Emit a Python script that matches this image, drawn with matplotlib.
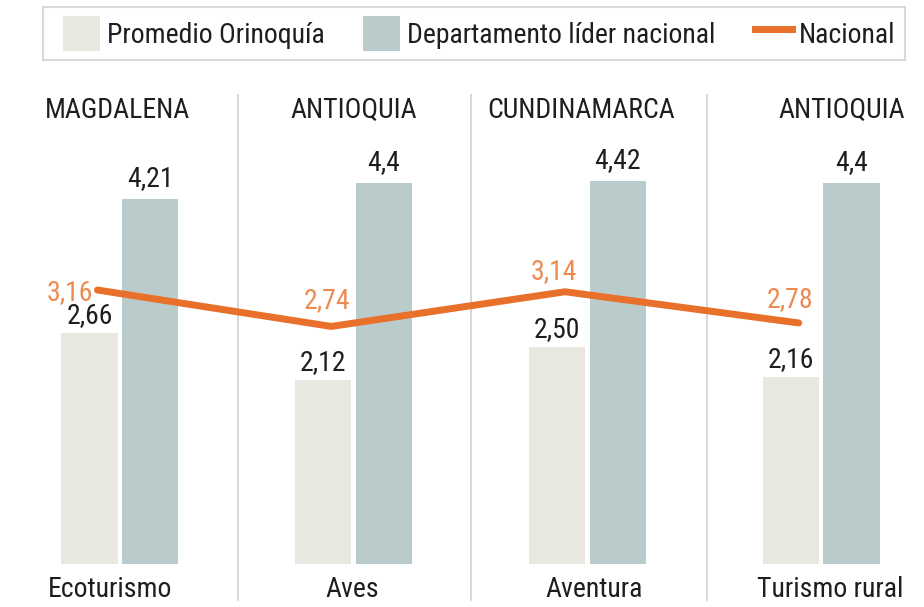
#!/usr/bin/env python3
import matplotlib
matplotlib.use('Agg')
import matplotlib.pyplot as plt
from matplotlib import font_manager
from matplotlib.patches import Patch, Rectangle
from matplotlib.lines import Line2D

CATEGORIES = ['Ecoturismo', 'Aves', 'Aventura', 'Turismo rural']
LEADERS = ['MAGDALENA', 'ANTIOQUIA', 'CUNDINAMARCA', 'ANTIOQUIA']
ORINOQUIA = [2.66, 2.12, 2.50, 2.16]
LIDER = [4.21, 4.4, 4.42, 4.4]
NACIONAL = [3.16, 2.74, 3.14, 2.78]
LIDER_LABELS = ['4,21', '4,4', '4,42', '4,4']

LIGHT = '#E8E7E0'
BLUE = '#BACBCB'
ORANGE = '#E8702A'
ORANGE_TXT = '#EC8A52'
TEXT = '#1E1E1E'
SEP = '#CFCFCF'

# pick a narrow sans if one is around
fonts = font_manager.fontManager.ttflist
names = {f.name for f in fonts}
if 'Roboto Condensed' in names:
    plt.rcParams['font.family'] = ['Roboto Condensed', 'DejaVu Sans']
elif 'Liberation Sans Narrow' in names:
    plt.rcParams['font.family'] = ['Liberation Sans Narrow', 'DejaVu Sans']
else:
    plt.rcParams['font.family'] = ['DejaVu Sans']
    if any(f.name == 'DejaVu Sans' and f.stretch == 'condensed' for f in fonts):
        plt.rcParams['font.stretch'] = 'condensed'

FS = 20
W, H = 924, 607


def fmt(v):
    return f'{v:.2f}'.replace('.', ',')


def main():
    fig = plt.figure(figsize=(W / 100, H / 100), dpi=100)
    ax = fig.add_axes([0, 0, 1, 1])
    ax.set_xlim(-0.513, 3.440)
    ax.set_ylim(-0.496, 6.505)
    ax.axis('off')

    x = list(range(len(CATEGORIES)))
    w = 0.24
    off = 0.13

    # separators between groups
    for s in [0.505, 1.5, 2.51]:
        ax.plot([s, s], [-0.42, 5.41], color=SEP, lw=1.2, zorder=1)

    ax.bar([i - off for i in x], ORINOQUIA, width=w, color=LIGHT, zorder=2)
    ax.bar([i + off for i in x], LIDER, width=w, color=BLUE, zorder=2)

    for i in x:
        ax.annotate(fmt(ORINOQUIA[i]), (i - off, ORINOQUIA[i]), xytext=(0, 3),
                    textcoords='offset points', ha='center', va='bottom',
                    fontsize=FS, color=TEXT, zorder=5)
        ax.annotate(LIDER_LABELS[i], (i + off, LIDER[i]), xytext=(0, 5),
                    textcoords='offset points', ha='center', va='bottom',
                    fontsize=FS, color=TEXT, zorder=5)

    lx = [i - 0.096 for i in x]
    ax.plot(lx, NACIONAL, color=ORANGE, lw=5, solid_capstyle='round',
            solid_joinstyle='round', zorder=4)

    # orange labels next to the line points
    lab_off = [(-3, -2, 'right', 'center'), (-3, 9, 'center', 'bottom'),
               (-8, 5, 'center', 'bottom'), (-6, 7, 'center', 'bottom')]
    for i in x:
        dx, dy, ha, va = lab_off[i]
        ax.annotate(fmt(NACIONAL[i]), (lx[i], NACIONAL[i]), xytext=(dx, dy),
                    textcoords='offset points', ha=ha, va=va,
                    fontsize=FS, color=ORANGE_TXT, zorder=5)

    # department headers
    head_x = [(-0.321, 'left'), (1.0, 'center'), (1.973, 'center'), (3.09, 'center')]
    for name, (hx, ha) in zip(LEADERS, head_x):
        ax.text(hx, 5.14, name, ha=ha, va='baseline', fontsize=FS, color=TEXT)

    # category labels
    cat_x = [-0.043, -0.004, 0.03, 0.04]
    for i, name in enumerate(CATEGORIES):
        ax.text(i + cat_x[i], -0.38, name, ha='center', va='baseline',
                fontsize=FS, color=TEXT)

    # legend box drawn separately so the padding can differ from the legend's
    fig.patches.append(Rectangle((43 / W, 1 - 60 / H), 862 / W, 53 / H,
                                 transform=fig.transFigure, facecolor='white',
                                 edgecolor='#D8D8D8', lw=1.5, zorder=0))
    handles = [
        Patch(facecolor=LIGHT, edgecolor='none'),
        Patch(facecolor=BLUE, edgecolor='none'),
        Line2D([0], [0], color=ORANGE, lw=5),
    ]
    labels = ['Promedio Orinoquía', 'Departamento líder nacional', 'Nacional']
    fig.legend(handles, labels, loc='center',
               bbox_to_anchor=(63 / W, 1 - 56 / H, 832 / W, 45 / H),
               mode='expand', ncol=3, fontsize=FS, frameon=False,
               borderpad=0, handlelength=1.33, handleheight=1.6,
               handletextpad=0.25, borderaxespad=0, labelcolor=TEXT)

    fig.savefig('out.png', dpi=100, facecolor='white')


if __name__ == '__main__':
    main()
